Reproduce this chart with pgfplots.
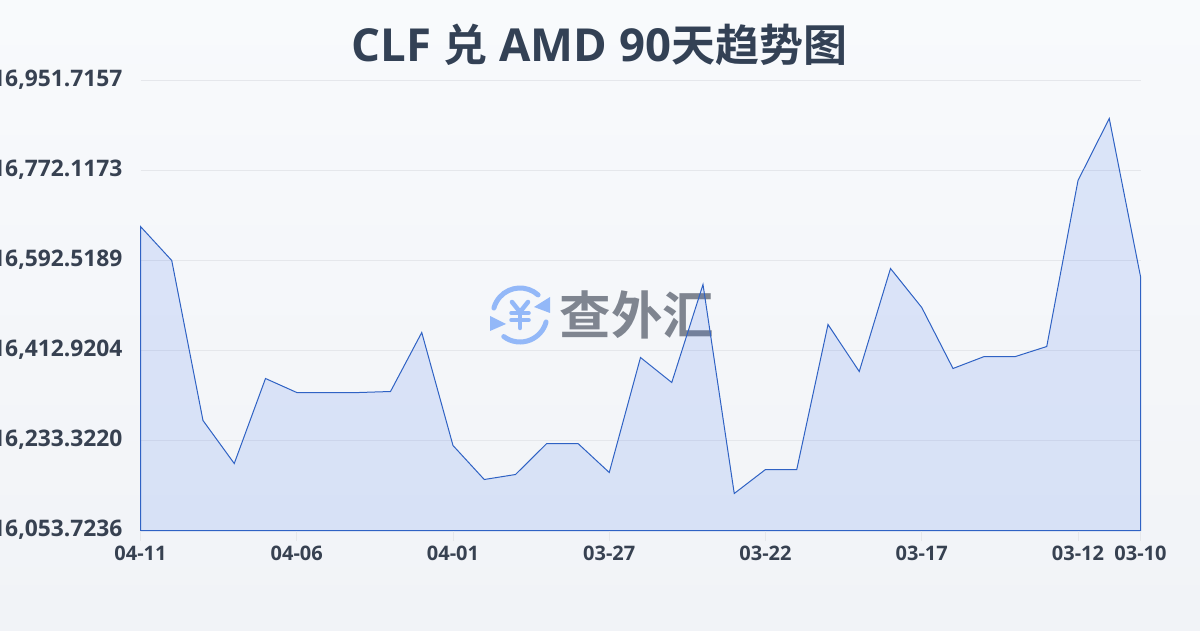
\documentclass[border=0pt]{standalone}
\usepackage{pgfplots}
\pgfplotsset{compat=1.18}
\usepackage{fontspec}
\setmainfont{Open Sans}
\newfontfamily\cjk{Noto Sans CJK SC}[BoldFont={Noto Sans CJK SC Bold}]
\definecolor{bgtop}{HTML}{F8FAFC}
\definecolor{bgbot}{HTML}{F1F3F7}
\definecolor{txt}{HTML}{374151}
\definecolor{ttl}{HTML}{334155}
\definecolor{gridc}{HTML}{E5E7EB}
\definecolor{linec}{HTML}{2F62C4}
\definecolor{fillc}{HTML}{2563EB}
\definecolor{logoc}{HTML}{93B8F8}
\definecolor{wm}{HTML}{7F8590}
\newcommand{\ct}[1]{{\cjk\fontsize{44}{48}\selectfont #1}}
\begin{document}
\begin{tikzpicture}[x=1pt,y=1pt]
\useasboundingbox (0,0) rectangle (1200,630);
\clip (0,0) rectangle (1200,630);
\shade[top color=bgtop,bottom color=bgbot] (0,0) rectangle (1200,630);
% title
\node[anchor=center,text=ttl,font={\bfseries\fontsize{45.5}{48}\selectfont}] at (599.5,585) {CLF \ct{兑} AMD 90\ct{天趋势图}};
% watermark
\begin{scope}[line width=5pt,logoc,line cap=round]
\draw ({520+27*cos(48)},{315+27*sin(48)}) arc (48:165:27pt);
\draw ({520+27*cos(233)},{315+27*sin(233)}) arc (233:345:27pt);
\fill (550,333) -- (550,317) -- (534,323) -- cycle;
\fill (490,314) -- (490,299) -- (506,306) -- cycle;
\draw[line width=4.5pt] (512,328) -- (520,318) -- (528,328);
\draw[line width=4.5pt] (520,318) -- (520,302);
\draw[line width=3.5pt] (511,317) -- (529,317);
\draw[line width=3.5pt] (511,310) -- (529,310);
\end{scope}
\node[anchor=center,text=wm,font={\cjk\bfseries\fontsize{51.5}{55}\selectfont}] at (637,315) {查外汇};
\begin{axis}[
  at={(140.5pt,99.5pt)},anchor=south west,
  scale only axis,width=1000pt,height=450pt,
  xmin=0,xmax=32,ymin=16053.7236,ymax=16951.7157,
  axis lines=none,
  clip=false,
  xtick=\empty,ytick=\empty,
]
% grid lines
\addplot[gridc,line width=1pt,forget plot] coordinates {(0,16233.3220) (32,16233.3220)};
\addplot[gridc,line width=1pt,forget plot] coordinates {(0,16412.9204) (32,16412.9204)};
\addplot[gridc,line width=1pt,forget plot] coordinates {(0,16592.5189) (32,16592.5189)};
\addplot[gridc,line width=1pt,forget plot] coordinates {(0,16772.1173) (32,16772.1173)};
\addplot[gridc,line width=1pt,forget plot] coordinates {(0,16951.7157) (32,16951.7157)};
% area
\addplot[draw=linec,line width=1pt,fill=fillc,fill opacity=0.13,draw opacity=1,line join=miter] coordinates {
(0,16660.37) (1,16592.52) (2,16273.23) (3,16187.42) (4,16357.04) (5,16329.11) (6,16329.11) (7,16329.11) (8,16331.10)
(9,16448.84) (10,16223.34) (11,16155.49) (12,16165.47) (13,16227.33) (14,16227.33) (15,16169.46) (16,16398.95)
(17,16349.06) (18,16544.62) (19,16127.56) (20,16175.45) (21,16175.45) (22,16464.80) (23,16371.01) (24,16576.55)
(25,16498.73) (26,16377.00) (27,16400.94) (28,16400.94) (29,16420.90) (30,16752.16) (31,16875.88) (32,16560.59)
} \closedcycle;
\end{axis}
\begin{axis}[
  at={(140.5pt,99.5pt)},anchor=south west,
  scale only axis,width=1000pt,height=450pt,
  xmin=0,xmax=32,ymin=16053.7236,ymax=16951.7157,
  axis x line*=bottom,axis y line*=left,
  x axis line style={draw=none},y axis line style={draw=none},
  scaled y ticks=false,
  /pgf/number format/assume math mode=true,
  xtick={0,5,10,15,20,25,30,32},
  xticklabels={04-11,04-06,04-01,03-27,03-22,03-17,03-12,03-10},
  ytick={16053.7236,16233.3220,16412.9204,16592.5189,16772.1173,16951.7157},
  yticklabels={{16,053.7236},{16,233.3220},{16,412.9204},{16,592.5189},{16,772.1173},{16,951.7157}},
  major tick length=10pt,
  xtick style={draw=gridc,line width=1pt},
  ytick style={draw=none},
  xticklabel style={font={\bfseries\fontsize{20}{22}\selectfont},text=txt,yshift=-1.5pt},
  yticklabel style={font={\bfseries\fontsize{22.8}{24}\selectfont},text=txt,xshift=-4.5pt,yshift=1pt},
  tick align=outside,
  clip=false,
]
\addplot[draw=none,forget plot] coordinates {(0,16053.7236) (32,16951.7157)};
\end{axis}
\end{tikzpicture}
\end{document}
